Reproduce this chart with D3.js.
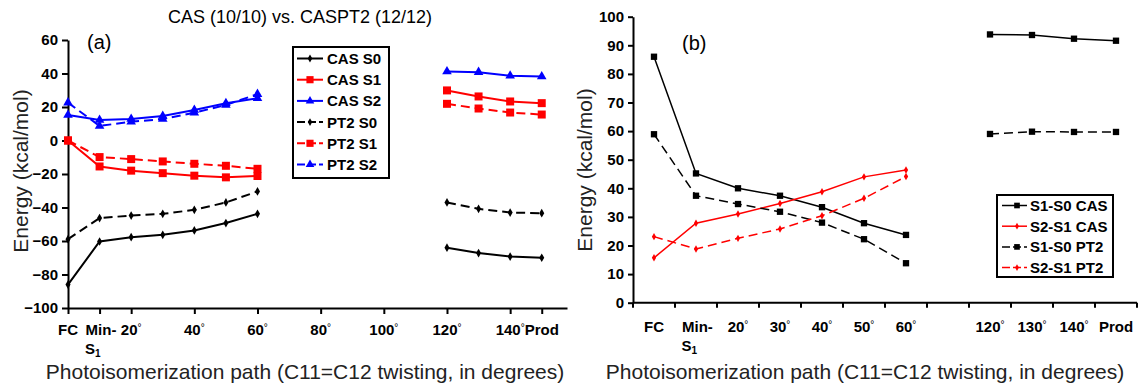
<!DOCTYPE html>
<html>
<head>
<meta charset="utf-8">
<script src="https://cdn.jsdelivr.net/npm/d3@7"></script>
<style>
  html, body { margin: 0; padding: 0; background: #fff; }
  svg { display: block; font-family: "Liberation Sans", Arial, sans-serif; }
</style>
</head>
<body>
<svg id="chart" width="1144" height="385"></svg>
<script>
// ---------- Panel (a): absolute energies along the twisting path ----------
const pathAngles = [0, 10, 20, 30, 40, 50, 60, 120, 130, 140, 150];
const casS0 = [-86, -60.3, -57.7, -56.3, -53.7, -49.3, -43.8, -64, -67.2, -69.3, -70];
const casS1 = [0, -15.5, -18, -19.5, -21, -22, -21.2, 29.9, 26.3, 23.3, 22.3];
const casS2 = [15.2, 12.2, 12.8, 14.6, 18.2, 22.2, 25.2, 41.2, 40.8, 38.6, 38.2];
const pt2S0 = [-58.9, -46.3, -44.8, -43.8, -41.4, -37, -30.4, -37, -40.8, -43, -43.4];
const pt2S1 = [0, -9.9, -11.1, -12.5, -13.9, -15.1, -16.9, 21.9, 19.1, 16.7, 15.5];
const pt2S2 = [22.6, 8.7, 11.2, 12.8, 16.6, 21.2, 27.7, null, null, null, null];
const seriesNamesA = ["CAS S0", "CAS S1", "CAS S2", "PT2 S0", "PT2 S1", "PT2 S2"];
const tickValuesA = [0, 10, 20, 40, 60, 80, 100, 120, 140, 150];
const tickLabelsA = ["FC", "Min-S1", "20°", "40°", "60°", "80°", "100°", "120°", "140°", "Prod"];
const yTicksA = [-100, -80, -60, -40, -20, 0, 20, 40, 60];

// ---------- Panel (b): energy gaps ----------
const gapCategories = ["FC", "Min-S1", "20°", "30°", "40°", "50°", "60°", "", "120°", "130°", "140°", "Prod"];
const s1s0Cas = [86, 45.2, 40, 37.4, 33.4, 27.8, 23.7, null, 93.8, 93.6, 92.3, 91.6];
const s2s1Cas = [15.7, 27.8, 31, 34.7, 38.8, 44, 46.4, null, null, null, null, null];
const s1s0Pt2 = [58.9, 37.4, 34.5, 31.8, 28, 22.2, 13.8, null, 59, 59.8, 59.7, 59.7];
const s2s1Pt2 = [23.1, 18.8, 22.5, 25.8, 30.4, 36.5, 44.1, null, null, null, null, null];
const seriesNamesB = ["S1-S0 CAS", "S2-S1 CAS", "S1-S0 PT2", "S2-S1 PT2"];
const yTicksB = [0, 10, 20, 30, 40, 50, 60, 70, 80, 90, 100];

const svg = d3.select("#chart");
svg.append("rect").attr("width", 1144).attr("height", 385).attr("fill", "#fff");

const DASH = "9,5";
const styles = {
  S0: { color: "#000", shape: d3.symbolDiamond, size: 22 },
  S1: { color: "#ff0000", shape: d3.symbolSquare, size: 64 },
  S2: { color: "#0000ff", shape: d3.symbolTriangle, size: 40 }
};

// split a series into runs of consecutive defined points (a break wherever the path skips ahead)
function runs(xs, ys, maxGap) {
  const out = [];
  let cur = [];
  xs.forEach((x, i) => {
    const y = ys[i];
    if (y == null) { if (cur.length) out.push(cur); cur = []; return; }
    if (cur.length && x - cur[cur.length - 1][0] > maxGap) { out.push(cur); cur = []; }
    cur.push([x, y]);
  });
  if (cur.length) out.push(cur);
  return out;
}

function drawSeries(g, x, y, xs, ys, opt, maxGap) {
  const line = d3.line().x(d => x(d[0])).y(d => y(d[1]));
  runs(xs, ys, maxGap).forEach(seg => {
    g.append("path").attr("d", line(seg)).attr("fill", "none")
      .attr("stroke", opt.color).attr("stroke-width", opt.width)
      .attr("stroke-dasharray", opt.dash ? DASH : null);
  });
  xs.forEach((xv, i) => {
    if (ys[i] == null) return;
    g.append("path").attr("d", d3.symbol(opt.shape, opt.size)())
      .attr("transform", `translate(${x(xv)},${y(ys[i])})`)
      .attr("fill", opt.color);
  });
}

// ======================= Panel (a) =======================
const xA = d3.scaleLinear().domain([0, 158]).range([68, 567]);
const yA = d3.scaleLinear().domain([-100, 60]).range([308, 40]);
const gA = svg.append("g");

gA.append("g").attr("transform", "translate(68,0)")
  .call(d3.axisLeft(yA).tickValues(yTicksA).tickSize(6).tickSizeOuter(0).tickPadding(4))
  .call(a => {
    a.select(".domain").attr("stroke-width", 2);
    a.selectAll(".tick line").attr("stroke-width", 2);
    a.selectAll("text").attr("font-size", 15).attr("font-weight", "bold").attr("fill", "#000")
      .attr("font-family", "Liberation Sans, Arial, sans-serif");
  });

gA.append("g").attr("transform", "translate(0,308)")
  .call(d3.axisBottom(xA).tickValues(tickValuesA).tickSize(6).tickSizeOuter(0).tickFormat(""))
  .call(a => {
    a.select(".domain").attr("stroke-width", 2);
    a.selectAll(".tick line").attr("stroke-width", 2);
  });

// category label: "Min-S1" on two lines with a subscript, degree signs as small raised rings
function tickLabel(g, xc, label, baseline) {
  if (label === "Min-S1") {
    const w = 29;
    g.append("text").attr("font-size", 15).attr("font-weight", "bold")
      .attr("x", xc - w / 2 + 0.5).attr("y", baseline).text("Min-");
    const s = g.append("text").attr("font-size", 15).attr("font-weight", "bold")
      .attr("x", xc - w / 2).attr("y", baseline + 19);
    s.append("tspan").text("S");
    s.append("tspan").attr("font-size", 10).attr("dy", 3).text("1");
    return;
  }
  const t = g.append("text").attr("font-size", 15).attr("font-weight", "bold")
    .attr("x", xc).attr("y", baseline).attr("text-anchor", "middle");
  if (label.endsWith("°")) {
    t.append("tspan").text(label.slice(0, -1));
    t.append("tspan").attr("font-size", 10).attr("font-weight", "normal").attr("dy", -4).text("°");
  } else {
    t.text(label);
  }
}
tickValuesA.forEach((v, i) => tickLabel(gA, xA(v), tickLabelsA[i], 335));

const seriesA = [
  { ys: casS0, st: styles.S0, dash: false },
  { ys: casS1, st: styles.S1, dash: false },
  { ys: casS2, st: styles.S2, dash: false },
  { ys: pt2S0, st: styles.S0, dash: true },
  { ys: pt2S1, st: styles.S1, dash: true },
  { ys: pt2S2, st: styles.S2, dash: true }
];
const dataA = gA.append("g");
seriesA.forEach(s => drawSeries(dataA, xA, yA, pathAngles, s.ys,
  { color: s.st.color, shape: s.st.shape, size: s.st.size, width: 2, dash: s.dash }, 20));

// legend (a)
const legA = gA.append("g");
legA.append("rect").attr("x", 293).attr("y", 47).attr("width", 96).attr("height", 131)
  .attr("fill", "#fff").attr("stroke", "#000").attr("stroke-width", 2);
seriesNamesA.forEach((name, i) => {
  const s = seriesA[i];
  const yy = 58.5 + i * 21.2;
  legA.append("line").attr("x1", 297).attr("x2", 323).attr("y1", yy).attr("y2", yy)
    .attr("stroke", s.st.color).attr("stroke-width", 2)
    .attr("stroke-dasharray", s.dash ? "8,3" : null);
  legA.append("path").attr("d", d3.symbol(s.st.shape, s.st.size * 0.8)())
    .attr("transform", `translate(310,${yy})`).attr("fill", s.st.color);
  legA.append("text").attr("x", 327).attr("y", yy + 5.5).attr("font-size", 15)
    .attr("font-weight", "bold").text(name);
});

svg.append("text").attr("x", 300).attr("y", 23).attr("text-anchor", "middle")
  .attr("font-size", 18).text("CAS (10/10) vs. CASPT2 (12/12)");
svg.append("text").attr("x", 87).attr("y", 49).attr("font-size", 20).text("(a)");
svg.append("text").attr("transform", "translate(28,171) rotate(-90)").attr("text-anchor", "middle")
  .attr("font-size", 21).attr("fill", "#222").text("Energy (kcal/mol)");
svg.append("text").attr("x", 305).attr("y", 379).attr("text-anchor", "middle")
  .attr("font-size", 21).attr("fill", "#222").text("Photoisomerization path (C11=C12 twisting, in degrees)");

// ======================= Panel (b) =======================
const idx = gapCategories.map((_, i) => i);
const xB = d3.scaleBand().domain(idx).range([633, 1137]).padding(0);
const yB = d3.scaleLinear().domain([0, 100]).range([302.7, 16.7]);
const gB = svg.append("g");

gB.append("g").attr("transform", "translate(633,0)")
  .call(d3.axisLeft(yB).tickValues(yTicksB).tickSize(5).tickSizeOuter(0).tickPadding(4))
  .call(a => {
    a.select(".domain").attr("stroke-width", 2);
    a.selectAll(".tick line").attr("stroke-width", 2);
    a.selectAll("text").attr("font-size", 15).attr("font-weight", "bold").attr("fill", "#000")
      .attr("font-family", "Liberation Sans, Arial, sans-serif");
  });

// category boundaries carry the tick marks
const boundary = d3.scaleLinear().domain([0, gapCategories.length]).range(xB.range());
const xAxisB = gB.append("g").attr("transform", "translate(0,302.7)");
xAxisB.append("line").attr("x1", boundary(0)).attr("x2", boundary(gapCategories.length))
  .attr("stroke", "#000").attr("stroke-width", 2);
d3.range(gapCategories.length + 1).forEach(i => {
  xAxisB.append("line").attr("x1", boundary(i)).attr("x2", boundary(i)).attr("y1", 0).attr("y2", 5)
    .attr("stroke", "#000").attr("stroke-width", 2);
});
gapCategories.forEach((c, i) => { if (c) tickLabel(gB, xB(i) + xB.bandwidth() / 2, c, 332); });

const seriesB = [
  { ys: s1s0Cas, color: "#000", shape: d3.symbolSquare, size: 40, dash: false },
  { ys: s2s1Cas, color: "#ff0000", shape: d3.symbolDiamond, size: 16, dash: false },
  { ys: s1s0Pt2, color: "#000", shape: d3.symbolSquare, size: 40, dash: true },
  { ys: s2s1Pt2, color: "#ff0000", shape: d3.symbolDiamond, size: 16, dash: true }
];
const xBc = i => xB(i) + xB.bandwidth() / 2;
const dataB = gB.append("g");
seriesB.forEach(s => drawSeries(dataB, xBc, yB, idx, s.ys,
  { color: s.color, shape: s.shape, size: s.size, width: 1.5, dash: s.dash }, 1));

// legend (b)
const legB = gB.append("g");
legB.append("rect").attr("x", 997).attr("y", 195).attr("width", 116).attr("height", 82)
  .attr("fill", "#fff").attr("stroke", "#000").attr("stroke-width", 2);
seriesNamesB.forEach((name, i) => {
  const s = seriesB[i];
  const yy = 205.5 + i * 20.7;
  legB.append("line").attr("x1", 1002).attr("x2", 1027).attr("y1", yy).attr("y2", yy)
    .attr("stroke", s.color).attr("stroke-width", 1.5)
    .attr("stroke-dasharray", s.dash ? "8,3" : null);
  legB.append("path").attr("d", d3.symbol(s.shape, s.size * 0.8)())
    .attr("transform", `translate(1017,${yy})`).attr("fill", s.color);
  legB.append("text").attr("x", 1030).attr("y", yy + 5.5).attr("font-size", 15)
    .attr("font-weight", "bold").text(name);
});

svg.append("text").attr("x", 682).attr("y", 50).attr("font-size", 20).text("(b)");
svg.append("text").attr("transform", "translate(592,170) rotate(-90)").attr("text-anchor", "middle")
  .attr("font-size", 21).attr("fill", "#222").text("Energy (kcal/mol)");
svg.append("text").attr("x", 865).attr("y", 379).attr("text-anchor", "middle")
  .attr("font-size", 21).attr("fill", "#222").text("Photoisomerization path (C11=C12 twisting, in degrees)");
</script>
</body>
</html>
